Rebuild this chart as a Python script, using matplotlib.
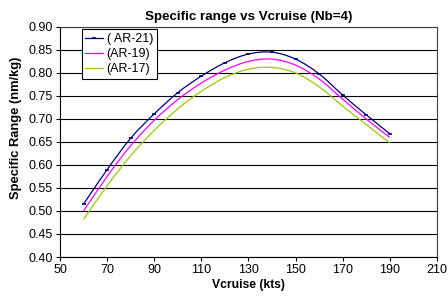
import numpy as np
import matplotlib
matplotlib.use("Agg")
import matplotlib.pyplot as plt
from matplotlib.path import Path
from matplotlib.patches import PathPatch
from matplotlib.lines import Line2D

plt.rcParams['font.family'] = ['Liberation Sans', 'DejaVu Sans']

# cruise speed (kts)
vcruise = [60, 70, 80, 90, 100, 110, 120, 130, 140, 150, 160, 170, 180, 190]

# specific range (nm/kg) for each aspect ratio
sr_ar21 = [0.515, 0.590, 0.658, 0.711, 0.757, 0.793, 0.822, 0.841, 0.845, 0.830, 0.798, 0.752, 0.709, 0.668]
sr_ar19 = [0.500, 0.575, 0.642, 0.697, 0.742, 0.778, 0.806, 0.825, 0.830, 0.817, 0.787, 0.743, 0.700, 0.660]
sr_ar17 = [0.482, 0.555, 0.620, 0.675, 0.722, 0.760, 0.790, 0.808, 0.812, 0.800, 0.770, 0.728, 0.688, 0.648]

labels = ['( AR-21)', '(AR-19)', '(AR-17)']
colors = ['#000080', '#FF00FF', '#99CC00']


def smooth_path(x, y):
    # excel-like smoothed line: bezier segments through every point
    p = np.column_stack([x, y]).astype(float)
    verts = [p[0]]
    codes = [Path.MOVETO]
    n = len(p)
    for i in range(n - 1):
        p0 = p[i - 1] if i > 0 else p[i]
        p3 = p[i + 2] if i + 2 < n else p[i + 1]
        c1 = p[i] + (p[i + 1] - p0) / 6
        c2 = p[i + 1] - (p3 - p[i]) / 6
        verts += [c1, c2, p[i + 1]]
        codes += [Path.CURVE4] * 3
    return Path(verts, codes)


fig = plt.figure(figsize=(4.48, 3.02), dpi=100)
ax = fig.add_axes([0.134, 0.149, 0.841, 0.762])

handles = []
for i, ys in enumerate([sr_ar21, sr_ar19, sr_ar17]):
    ax.add_patch(PathPatch(smooth_path(vcruise, ys), fill=False, edgecolor=colors[i],
                           lw=0.9, zorder=3 - 0.1 * i))
    handles.append(Line2D([], [], color=colors[i], lw=0.9,
                          marker='_' if i == 0 else None, ms=3, mew=1.2))
ax.plot(vcruise, sr_ar21, ls='none', color='#000080', marker='_', ms=3, mew=1.2, zorder=4)

ax.set_xlim(50, 210)
ax.set_ylim(0.40, 0.90)
ax.set_xticks(np.arange(50, 211, 20))
ax.set_yticks(np.arange(0.40, 0.901, 0.05))
ax.set_yticklabels([f"{v:.2f}" for v in np.arange(0.40, 0.901, 0.05)])
ax.grid(axis='y', color='black', lw=0.8)
ax.set_axisbelow(True)
ax.tick_params(labelsize=9, length=3, width=0.8, color='black', pad=2)
for s in ax.spines.values():
    s.set_color('#404040')
    s.set_linewidth(0.8)
ax.spines['left'].set_color('black')
ax.spines['bottom'].set_color('black')

ax.set_title("Specific range vs Vcruise (Nb=4)", fontsize=9.6, fontweight='bold', pad=5)
ax.set_xlabel("Vcruise (kts)", fontsize=8.7, fontweight='bold', labelpad=2)
ax.set_ylabel("Specific Range (nm/kg)", fontsize=9.3, fontweight='bold')
ax.yaxis.set_label_coords(-0.102, 0.56)

leg = ax.legend(handles, labels, loc='upper left', bbox_to_anchor=(0.057, 0.99), fontsize=9,
                frameon=True, fancybox=False, edgecolor='black', framealpha=1, borderpad=0.3,
                handlelength=1.4, handletextpad=0.3, labelspacing=0.25, borderaxespad=0)
leg.get_frame().set_linewidth(0.8)

fig.savefig("out.png", dpi=100)
